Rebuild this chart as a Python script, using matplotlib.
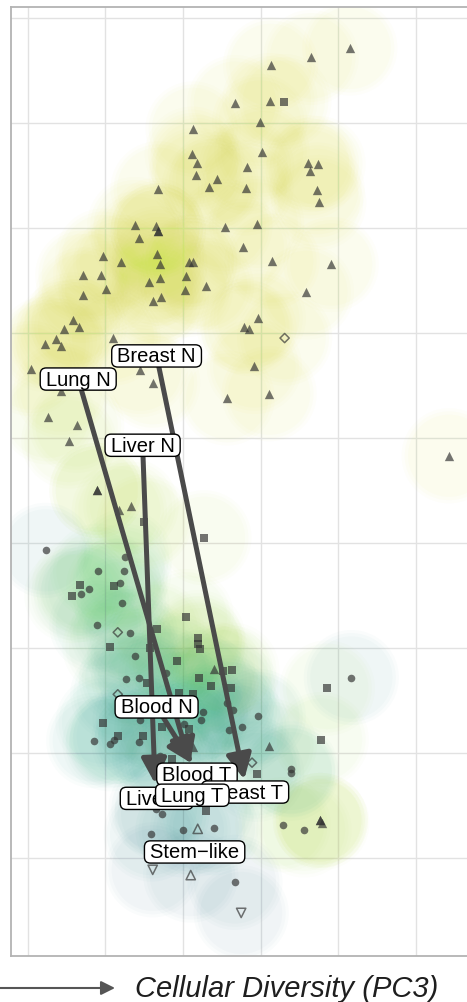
import numpy as np
import matplotlib
matplotlib.use('Agg')
import matplotlib.pyplot as plt

# points per sample group: (PC3, PC2, stemness score)
triangles = [
    (2.15, 4.71, 0.93), (1.65, 4.62, 0.93), (1.13, 4.55, 0.93), (0.67, 4.19, 0.93),
    (1.12, 4.21, 0.93), (0.99, 4.01, 0.93), (0.13, 3.94, 0.93), (1.02, 3.72, 0.93),
    (0.12, 3.70, 0.93), (0.18, 3.62, 0.93), (0.82, 3.58, 0.93), (1.61, 3.62, 0.93),
    (1.74, 3.61, 0.93), (1.64, 3.54, 0.93), (0.17, 3.50, 0.93), (0.44, 3.46, 0.93),
    (0.34, 3.39, 0.93), (0.81, 3.38, 0.93), (-0.32, 3.37, 0.93), (1.73, 3.36, 0.93),
    (1.75, 3.24, 0.93), (-0.62, 3.03, 0.93), (-0.35, 3.02, 0.93), (-0.32, 2.97, 0.93),
    (-0.32, 2.97, 0.93), (-0.57, 2.90, 0.93), (0.54, 3.01, 0.93), (0.95, 3.04, 0.93),
    (0.77, 2.82, 0.93), (-1.03, 2.73, 0.93), (-0.80, 2.67, 0.93), (-0.34, 2.75, 0.93),
    (-0.30, 2.65, 0.93), (0.08, 2.67, 0.93), (0.13, 2.67, 0.93), (1.15, 2.68, 0.93),
    (1.91, 2.65, 0.93), (-1.29, 2.55, 0.93), (-1.06, 2.55, 0.93), (-0.44, 2.48, 0.93),
    (-0.30, 2.52, 0.93), (0.04, 2.54, 0.93), (0.30, 2.45, 0.93), (-0.99, 2.42, 0.93),
    (-1.29, 2.36, 0.93), (-0.39, 2.30, 0.93), (-0.28, 2.34, 0.93), (0.03, 2.41, 0.93),
    (1.59, 2.39, 0.93), (-1.42, 2.12, 0.93), (-1.53, 2.04, 0.93), (-1.34, 2.06, 0.93),
    (0.97, 2.14, 0.93), (0.79, 2.06, 0.93), (0.85, 2.04, 0.93), (-1.78, 1.89, 0.93),
    (-1.64, 1.94, 0.93), (-1.57, 1.87, 0.93), (-0.90, 1.95, 0.93), (-1.96, 1.66, 0.93),
    (-0.55, 1.65, 0.93), (0.92, 1.68, 0.93), (-1.57, 1.45, 0.93), (-0.39, 1.52, 0.93),
    (0.57, 1.38, 0.93), (1.11, 1.42, 0.93), (-1.74, 1.20, 0.90), (-1.37, 1.12, 0.90),
    (-1.47, 0.97, 0.90), (3.43, 0.83, 0.95), (-1.11, 0.50, 0.90), (-1.11, 0.50, 0.90),
    (-0.82, 0.31, 0.90), (-0.67, 0.35, 0.90), (0.40, -1.20, 0.85), (1.11, -1.93, 0.80),
    (1.77, -2.64, 0.90), (1.79, -2.66, 0.90), (1.77, -2.64, 0.90), (0.13, -1.94, 0.70),
]
squares = [
    (1.30, 4.20, 0.93), (-0.50, 0.20, 0.90), (0.27, 0.05, 0.90), (-1.33, -0.40, 0.80),
    (-0.89, -0.41, 0.80), (-1.43, -0.50, 0.80), (0.04, -0.70, 0.85), (-0.34, -0.82, 0.85),
    (0.19, -0.90, 0.85), (0.19, -0.96, 0.85), (0.22, -1.01, 0.85), (-0.94, -0.99, 0.80),
    (-0.43, -1.00, 0.80), (-0.08, -1.12, 0.75), (0.52, -1.22, 0.85), (0.63, -1.21, 0.85),
    (-0.46, -1.33, 0.65), (0.21, -1.28, 0.70), (0.36, -1.36, 0.70), (0.62, -1.38, 0.70),
    (1.86, -1.38, 0.85), (0.13, -1.44, 0.65), (-0.05, -1.43, 0.65), (0.08, -1.77, 0.60),
    (-0.27, -1.75, 0.60), (-1.03, -1.71, 0.60), (-0.84, -1.84, 0.60), (-0.52, -1.84, 0.60),
    (1.78, -1.87, 0.85), (-0.14, -2.06, 0.55), (0.95, -2.20, 0.60), (0.30, -2.55, 0.55),
]
circles = [
    (-1.77, -0.07, 0.50), (-1.10, -0.27, 0.75), (-0.76, -0.27, 0.75), (-0.75, -0.13, 0.75),
    (-1.21, -0.44, 0.70), (-0.81, -0.38, 0.70), (-1.31, -0.49, 0.70), (-0.79, -0.57, 0.70),
    (-1.11, -0.78, 0.65), (-0.68, -0.86, 0.65), (-0.62, -1.08, 0.65), (-0.22, -1.24, 0.60),
    (-0.73, -1.29, 0.60), (-0.57, -1.28, 0.60), (2.17, -1.28, 0.50), (0.57, -1.52, 0.60),
    (0.64, -1.59, 0.60), (0.26, -1.61, 0.60), (0.23, -1.68, 0.60), (0.97, -1.65, 0.55),
    (0.76, -1.75, 0.55), (0.59, -1.78, 0.55), (0.01, -1.72, 0.60), (-0.55, -1.68, 0.55),
    (-1.15, -1.88, 0.55), (-0.94, -1.91, 0.55), (-0.89, -1.87, 0.55), (-0.57, -1.89, 0.55),
    (-0.30, -2.03, 0.55), (1.39, -2.15, 0.65), (1.39, -2.19, 0.65), (-0.27, -2.58, 0.50),
    (-0.35, -2.53, 0.50), (1.29, -2.68, 0.85), (1.56, -2.73, 0.85), (-0.41, -2.77, 0.45),
    (0.00, -2.73, 0.50), (0.40, -2.71, 0.50), (0.67, -3.23, 0.40),
]
diamonds = [(1.31, 1.95, 0.93), (-0.84, -0.85, 0.70), (-0.84, -1.44, 0.60), (0.89, -2.09, 0.60)]
open_up = [(0.19, -2.72, 0.45), (0.10, -3.16, 0.38)]
open_down = [(-0.39, -3.11, 0.38), (0.75, -3.52, 0.38)]

# normal -> tumour shifts (label position of N, centroid of T)
shift_names = ['Breast', 'Lung', 'Liver', 'Blood']
shift_from = [(-0.34, 1.78), (-1.35, 1.56), (-0.52, 0.93), (-0.34, -1.56)]
shift_to = [(0.79, -2.25), (0.09, -2.10), (-0.36, -2.29), (0.12, -2.10)]

labels = ['Breast N', 'Lung N', 'Liver N', 'Blood N', 'Blood T', 'Liver T',
          'Breast T', 'Lung T', 'Stem\u2212like']
label_x = [-0.34, -1.35, -0.52, -0.34, 0.18, -0.34, 0.80, 0.12, 0.15]
label_y = [1.78, 1.56, 0.93, -1.56, -2.20, -2.43, -2.37, -2.40, -2.94]

fig = plt.figure(figsize=(4.67, 10.03), dpi=100)
ax = fig.add_axes([11 / 467, 1 - 957 / 1003, 1 - 11 / 467, 949.5 / 1003])
ax.set_xlim(-2.216, 3.66)
ax.set_ylim(-3.93, 5.105)
ax.set_xticks(range(-2, 4))
ax.set_yticks(range(-3, 6))
ax.grid(True, color='#e2e2e2', lw=1.0)
ax.set_axisbelow(True)
ax.tick_params(length=0, labelbottom=False, labelleft=False)
for side in ['left', 'top', 'bottom']:
    ax.spines[side].set_color('#b3b3b3')
    ax.spines[side].set_linewidth(1.3)
ax.spines['right'].set_visible(False)

cmap = plt.get_cmap('viridis')
groups = [triangles, squares, circles, diamonds, open_up, open_down]

# soft glow behind every sample
for g in groups:
    gx, gy, gs = zip(*g)
    cols = cmap(np.array(gs))
    for size, a in [(4700, 0.02), (4100, 0.022), (3500, 0.025)]:
        ax.scatter(gx, gy, s=size, c=cols, alpha=a, linewidths=0, zorder=1)

mk = '#333333'
gx, gy, _ = zip(*triangles)
ax.scatter(gx, gy, marker='^', s=45, color=mk, alpha=0.68, linewidths=0, zorder=3)
gx, gy, _ = zip(*squares)
ax.scatter(gx, gy, marker='s', s=34, color=mk, alpha=0.68, linewidths=0, zorder=3)
gx, gy, _ = zip(*circles)
ax.scatter(gx, gy, marker='o', s=30, color=mk, alpha=0.68, linewidths=0, zorder=3)
gx, gy, _ = zip(*diamonds)
ax.scatter(gx, gy, marker='D', s=22, facecolors='none', edgecolors=mk, alpha=0.68, linewidths=1.1, zorder=3)
gx, gy, _ = zip(*open_up)
ax.scatter(gx, gy, marker='^', s=45, facecolors='none', edgecolors=mk, alpha=0.68, linewidths=1.1, zorder=3)
gx, gy, _ = zip(*open_down)
ax.scatter(gx, gy, marker='v', s=45, facecolors='none', edgecolors=mk, alpha=0.68, linewidths=1.1, zorder=3)

for (x0, y0), (x1, y1) in zip(shift_from, shift_to):
    ax.annotate('', xy=(x1, y1), xytext=(x0, y0), zorder=4,
                arrowprops=dict(arrowstyle='-|>', color='#4a4a4a', lw=3.6,
                                mutation_scale=38, shrinkA=0, shrinkB=0))

for i, (t, x, y) in enumerate(zip(labels, label_x, label_y)):
    ax.text(x, y, '\u2009' + t + '\u2009', ha='center', va='center', fontsize=14.5,
            family=['Liberation Sans', 'DejaVu Sans'], zorder=5 + i,
            bbox=dict(boxstyle='round,pad=0.08,rounding_size=0.3', fc='white',
                      ec='black', lw=1.0))

y_lab = 1 - 989 / 1003
ax.annotate('', xy=(115 / 467, y_lab), xytext=(0, y_lab), xycoords='figure fraction',
            annotation_clip=False,
            arrowprops=dict(arrowstyle='-|>', color='#555555', lw=1.5,
                            mutation_scale=21, shrinkA=0, shrinkB=0))
fig.text(135 / 467, y_lab, 'Cellular Diversity (PC3)', fontsize=21, style='italic',
         family='Liberation Sans', va='center', ha='left', color='#1e1e1e')

fig.savefig('out.png', dpi=100)
